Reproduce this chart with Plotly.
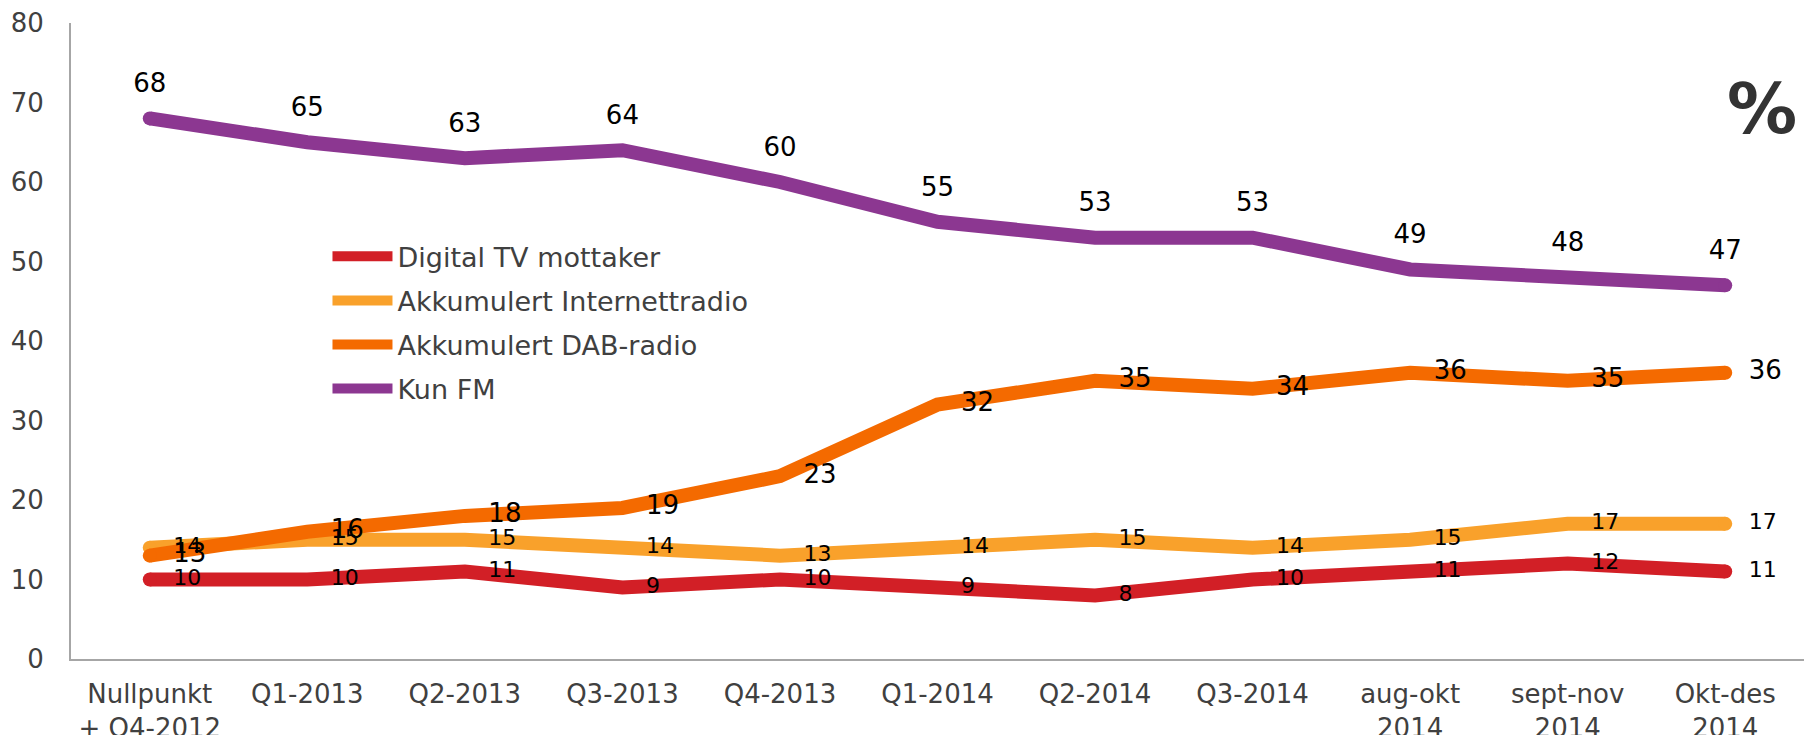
import plotly.graph_objects as go

# categories on the x axis
categories = [
    "Nullpunkt<br>+ Q4-2012", "Q1-2013", "Q2-2013", "Q3-2013", "Q4-2013",
    "Q1-2014", "Q2-2014", "Q3-2014", "aug-okt<br>2014", "sept-nov<br>2014",
    "Okt-des<br>2014",
]

# series values (%)
digital_tv = [10, 10, 11, 9, 10, 9, 8, 10, 11, 12, 11]
internettradio = [14, 15, 15, 14, 13, 14, 15, 14, 15, 17, 17]
dab_radio = [13, 16, 18, 19, 23, 32, 35, 34, 36, 35, 36]
kun_fm = [68, 65, 63, 64, 60, 55, 53, 53, 49, 48, 47]

series = [
    ("Digital TV mottaker", digital_tv, "#D21F26"),
    ("Akkumulert Internettradio", internettradio, "#F9A12B"),
    ("Akkumulert DAB-radio", dab_radio, "#F46A00"),
    ("Kun FM", kun_fm, "#8C3791"),
]

fig = go.Figure()

# thick lines
for name, vals, color in series:
    fig.add_trace(go.Scatter(
        x=categories, y=vals, name=name, mode="lines",
        line=dict(color=color, width=14),
        legendgroup=name, hoverinfo="skip",
    ))
    # round caps at both ends
    fig.add_trace(go.Scatter(
        x=[categories[0], categories[-1]], y=[vals[0], vals[-1]],
        mode="markers", marker=dict(color=color, size=14),
        showlegend=False, hoverinfo="skip",
    ))

# data labels on top of all lines
for name, vals, color in series:
    is_fm = name == "Kun FM"
    small = name in ("Digital TV mottaker", "Akkumulert Internettradio")
    fig.add_trace(go.Scatter(
        x=categories, y=vals, mode="markers+text",
        text=[str(v) for v in vals],
        textposition="top center" if is_fm else "middle right",
        textfont=dict(family="DejaVu Sans", size=22 if small else 26, color="black"),
        marker=dict(size=30 if is_fm else 36, color="rgba(0,0,0,0)"),
        showlegend=False, hoverinfo="skip",
    ))

fig.add_annotation(
    text="<b>%</b>", xref="paper", yref="paper", x=0.976, y=0.865,
    xanchor="center", yanchor="middle", showarrow=False,
    font=dict(family="DejaVu Sans", size=70, color="#333333"),
)

fig.update_layout(
    width=1806, height=735,
    margin=dict(l=71, r=2, t=23, b=76),
    plot_bgcolor="white", paper_bgcolor="white",
    font=dict(family="DejaVu Sans", color="#404040"),
    legend=dict(
        x=0.148, y=0.671, xanchor="left", yanchor="top",
        font=dict(size=27, color="#404040"),
        itemwidth=60, tracegroupgap=6, bgcolor="rgba(0,0,0,0)",
    ),
    xaxis=dict(
        range=[-0.5, 10.5], showgrid=False, zeroline=False, automargin=False,
        showline=True, linecolor="#A6A6A6", linewidth=2,
        tickfont=dict(size=26, color="#404040"), ticklabelstandoff=11,
    ),
    yaxis=dict(
        range=[0, 80], dtick=10, showgrid=False, zeroline=False, automargin=False,
        showline=True, linecolor="#A6A6A6", linewidth=2,
        tickfont=dict(size=26, color="#404040"), ticklabelstandoff=20,
    ),
)

# page without the default body margin
fig.write_html(
    "out.html",
    config={"displayModeBar": False},
    post_script="document.body.style.margin = '0';",
)
